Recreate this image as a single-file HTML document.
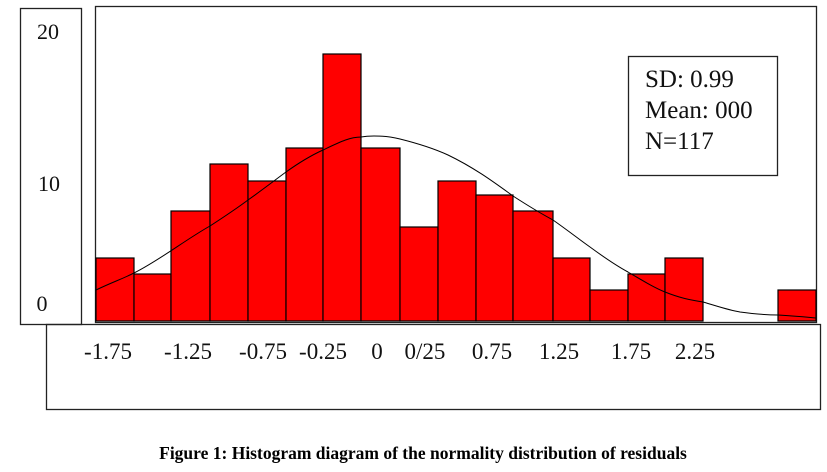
<!DOCTYPE html>
<html><head><style>body{margin:0;background:#fff}</style></head><body>
<svg width="827" height="467" xmlns="http://www.w3.org/2000/svg" font-family="Liberation Serif, serif">
<rect x="20.5" y="8.5" width="61" height="316" fill="none" stroke="#222" stroke-width="1.3"/>
<rect x="95.5" y="6.5" width="721" height="316" fill="none" stroke="#222" stroke-width="1.3"/>
<rect x="46.5" y="324.5" width="774" height="85" fill="none" stroke="#222" stroke-width="1.3"/>
<g fill="#ff0000" stroke="#000" stroke-width="1.2">
<rect x="96" y="258" width="38" height="63"/>
<rect x="134" y="274" width="37" height="47"/>
<rect x="171" y="211" width="39" height="110"/>
<rect x="210" y="164" width="38" height="157"/>
<rect x="248" y="181" width="38" height="140"/>
<rect x="286" y="148" width="37" height="173"/>
<rect x="323" y="54" width="38" height="267"/>
<rect x="361" y="148" width="39" height="173"/>
<rect x="400" y="227" width="38" height="94"/>
<rect x="438" y="181" width="38" height="140"/>
<rect x="476" y="195" width="37" height="126"/>
<rect x="513" y="211" width="40" height="110"/>
<rect x="553" y="258" width="37" height="63"/>
<rect x="590" y="290" width="38" height="31"/>
<rect x="628" y="274" width="37" height="47"/>
<rect x="665" y="258" width="38" height="63"/>
<rect x="778" y="290" width="38" height="31"/>
</g>
<path d="M96,290 C115,281 120,280 134,273 C160,260 185,240 210,226 C230,213 240,206 248,200 C265,188 275,180 286,172 C300,162 312,155 323,150 C340,142 350,137 361,137 C372,135 388,136 400,139 C420,144 435,149 448,155 C475,168 495,183 513,196 C530,207 540,213 553,220 C570,232 580,240 590,247 C605,258 615,265 628,272 C645,282 655,288 665,292 C680,298 690,300 703,302 C720,307 728,310 740,312 C755,314 765,315 778,315 C795,316 805,317 816,318" fill="none" stroke="#000" stroke-width="1"/>
<g font-size="22" fill="#111">
<text x="48" y="39" text-anchor="middle">20</text>
<text x="49" y="191" text-anchor="middle">10</text>
<text x="42" y="311" text-anchor="middle">0</text>
<g text-anchor="middle" font-size="23">
<text x="108" y="359">-1.75</text>
<text x="188" y="359">-1.25</text>
<text x="263" y="359">-0.75</text>
<text x="323" y="359">-0.25</text>
<text x="377" y="359">0</text>
<text x="425" y="359">0/25</text>
<text x="492" y="359">0.75</text>
<text x="559" y="359">1.25</text>
<text x="631" y="359">1.75</text>
<text x="695" y="359">2.25</text>
</g>
</g>
<rect x="628.5" y="56.5" width="149" height="119" fill="#fff" stroke="#222" stroke-width="1.3"/>
<g font-size="25" fill="#111">
<text x="645" y="87">SD: 0.99</text>
<text x="645" y="118">Mean: 000</text>
<text x="645" y="149">N=117</text>
</g>
<text x="423" y="459" text-anchor="middle" font-size="17.5" font-weight="bold">Figure 1: Histogram diagram of the normality distribution of residuals</text>
</svg>
</body></html>
